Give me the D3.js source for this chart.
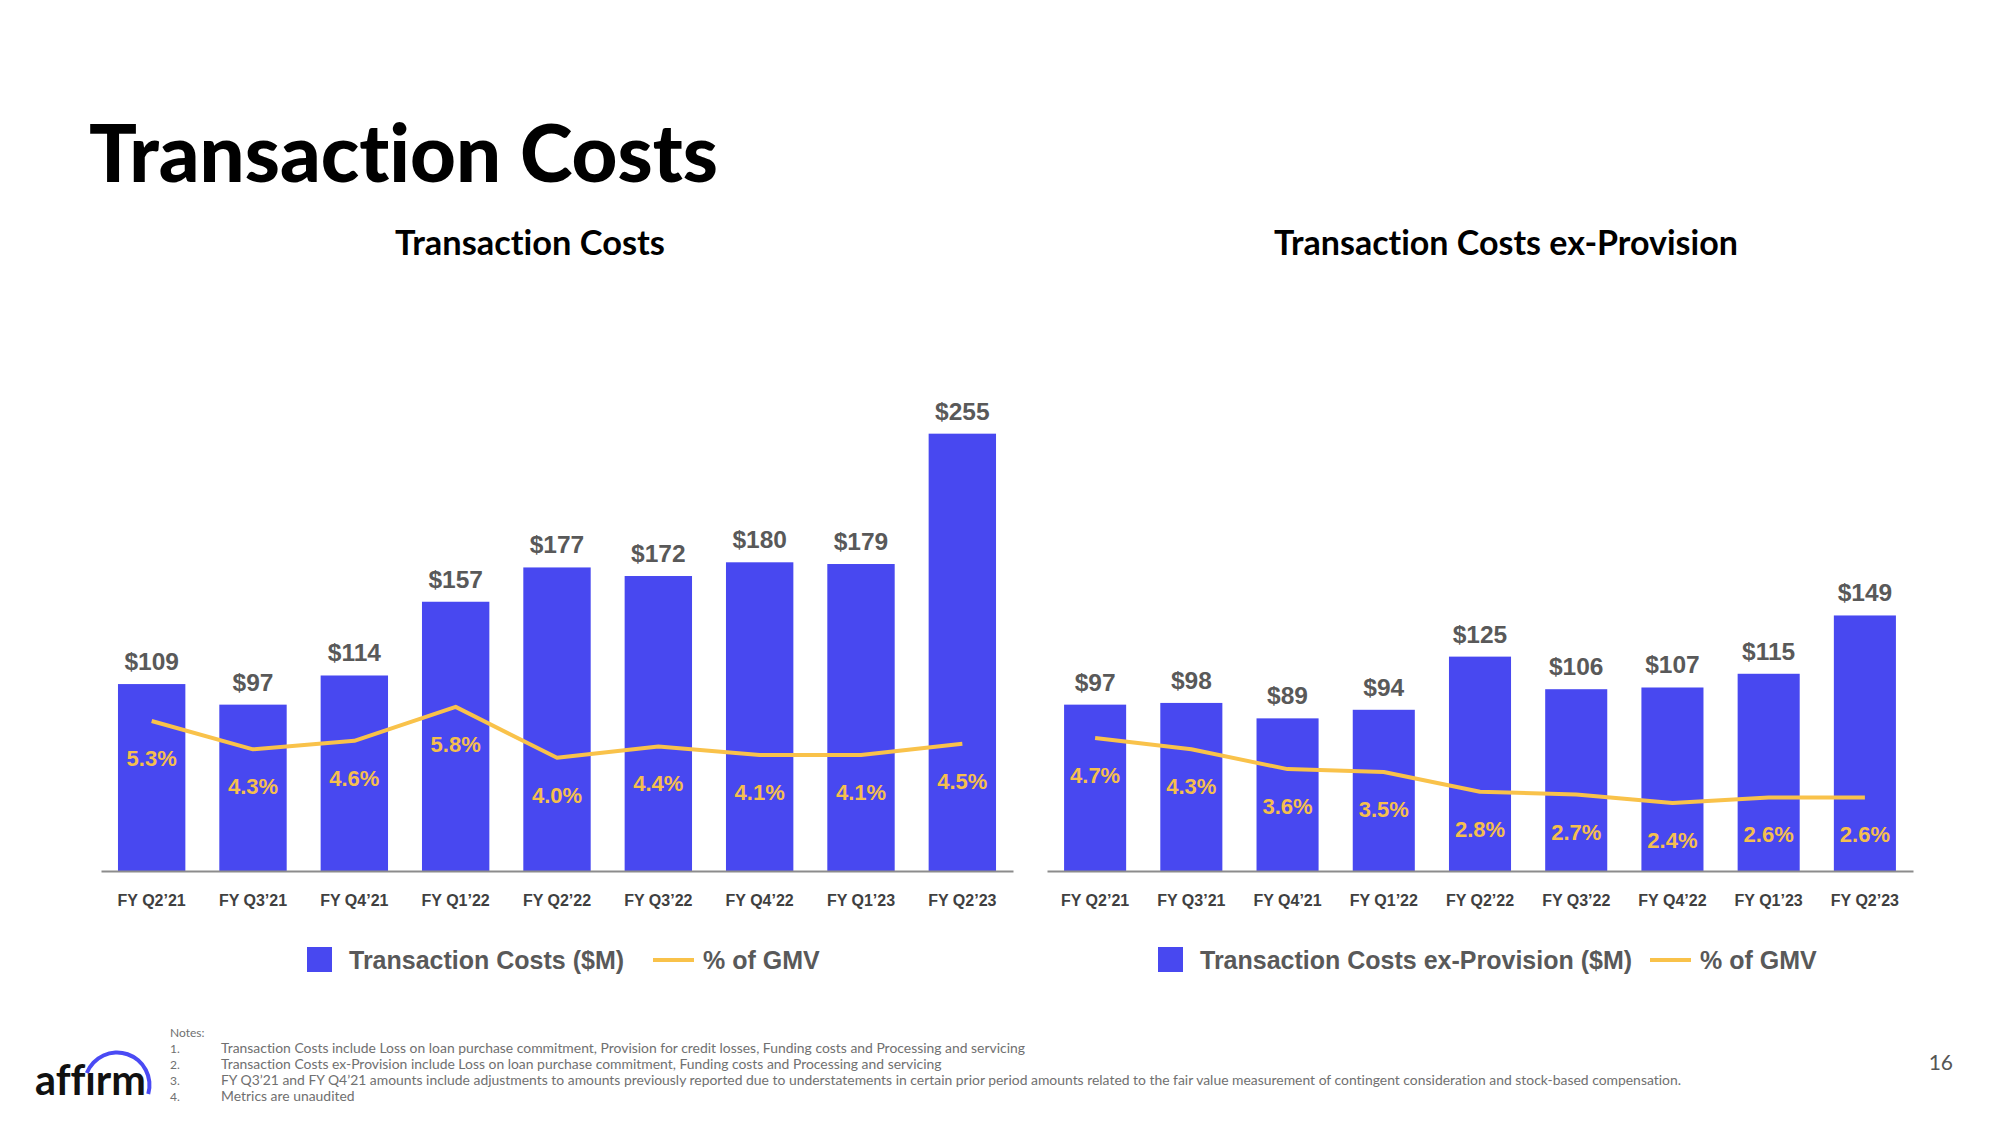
<!DOCTYPE html>
<html>
<head>
<meta charset="utf-8">
<script src="https://cdn.jsdelivr.net/npm/d3@7"></script>
<style>
  html, body { margin: 0; padding: 0; background: #ffffff; }
  svg { display: block; }
  text { font-variant-ligatures: none; font-feature-settings: "liga" 0, "clig" 0; }
</style>
</head>
<body>
<div id="chart"></div>
<script>
// ---------------- DATA ----------------
const categories = ["FY Q2\u201921","FY Q3\u201921","FY Q4\u201921","FY Q1\u201922","FY Q2\u201922","FY Q3\u201922","FY Q4\u201922","FY Q1\u201923","FY Q2\u201923"];
const transactionCosts = [109, 97, 114, 157, 177, 172, 180, 179, 255];
const transactionPctGMV = [5.3, 4.3, 4.6, 5.8, 4.0, 4.4, 4.1, 4.1, 4.5];
const exProvisionCosts = [97, 98, 89, 94, 125, 106, 107, 115, 149];
const exProvisionPctGMV = [4.7, 4.3, 3.6, 3.5, 2.8, 2.7, 2.4, 2.6, 2.6];
const notes = [
  "Transaction Costs include Loss on loan purchase commitment, Provision for credit losses, Funding costs and Processing and servicing",
  "Transaction Costs ex-Provision include Loss on loan purchase commitment, Funding costs and Processing and servicing",
  "FY Q3\u201921 and FY Q4\u201921 amounts include adjustments to amounts previously reported due to understatements in certain prior period amounts related to the fair value measurement of contingent consideration and stock-based compensation.",
  "Metrics are unaudited"
];

// ---------------- STYLE ----------------
const BAR = "#4848F0";
const LINE = "#F9C24A";
const PCT_TEXT = "#F5BF4E";
const VAL_TEXT = "#595959";
const AXIS_TEXT = "#404040";
const AXIS_LINE = "#8c8c8c";
const CHART_FONT = "'Liberation Sans', Arial, sans-serif";
const TITLE_FONT = "Lato, 'Open Sans', sans-serif";

const W = 2000, H = 1125;
const svg = d3.select("#chart").append("svg").attr("width", W).attr("height", H);

function fitWidth(sel, target) {
  const w = sel.node().getComputedTextLength();
  const fs = parseFloat(sel.attr("font-size"));
  sel.attr("font-size", fs * target / w);
}

// Title
const title = svg.append("text").attr("x", 89).attr("y", 182)
  .attr("font-family", TITLE_FONT).attr("font-weight", 900).attr("font-size", 72)
  .attr("fill", "#000").text("Transaction Costs");
fitWidth(title, 629);

// ---------------- PANELS ----------------
const baseY = 871;
const yVal = d3.scaleLinear().domain([0, 300]).range([baseY, baseY - 514.5]);
const yPct = d3.scaleLinear().domain([0, 10]).range([baseY, baseY - 283]);

function panel(cfg) {
  const g = svg.append("g");
  const x = d3.scaleBand().domain(categories).range([cfg.x0, cfg.x1])
    .paddingInner(cfg.pad).paddingOuter(cfg.pad / 2);
  const bw = x.bandwidth();

  // subtitle
  const st = g.append("text").attr("x", cfg.titleX).attr("y", 255)
    .attr("text-anchor", "middle").attr("font-family", TITLE_FONT)
    .attr("font-weight", 700).attr("font-size", 30).attr("fill", "#000").text(cfg.title);
  fitWidth(st, cfg.titleW);

  // bars
  g.selectAll("rect.bar").data(cfg.values).join("rect").attr("class", "bar")
    .attr("x", (d, i) => x(categories[i])).attr("width", bw)
    .attr("y", d => yVal(d)).attr("height", d => baseY - yVal(d))
    .attr("fill", BAR);

  // axis
  const ax = g.append("g").attr("transform", `translate(0,${baseY})`)
    .call(d3.axisBottom(x).tickSize(0).tickSizeOuter(0));
  ax.select(".domain").attr("stroke", AXIS_LINE).attr("stroke-width", 2);
  ax.selectAll(".tick text").attr("y", 35).attr("dy", 0)
    .attr("font-family", CHART_FONT).attr("font-weight", 700).attr("font-size", 16)
    .attr("fill", AXIS_TEXT);

  // value labels
  g.selectAll("text.val").data(cfg.values).join("text").attr("class", "val")
    .attr("x", (d, i) => x(categories[i]) + bw / 2).attr("y", d => yVal(d) - 14)
    .attr("text-anchor", "middle").attr("font-family", CHART_FONT)
    .attr("font-weight", 700).attr("font-size", 24.5).attr("fill", VAL_TEXT)
    .text(d => "$" + d);

  // line
  const line = d3.line().x((d, i) => x(categories[i]) + bw / 2).y(d => yPct(d));
  g.append("path").datum(cfg.pct).attr("d", line).attr("fill", "none")
    .attr("stroke", LINE).attr("stroke-width", 4).attr("stroke-linejoin", "round");

  // pct labels
  g.selectAll("text.pct").data(cfg.pct).join("text").attr("class", "pct")
    .attr("x", (d, i) => x(categories[i]) + bw / 2).attr("y", d => yPct(d) + 45)
    .attr("text-anchor", "middle").attr("font-family", CHART_FONT)
    .attr("font-weight", 700).attr("font-size", 22).attr("fill", PCT_TEXT)
    .text(d => d.toFixed(1) + "%");

  // legend
  const lg = g.append("g");
  lg.append("rect").attr("x", cfg.legX).attr("y", 947).attr("width", 25).attr("height", 25).attr("fill", BAR);
  lg.append("text").attr("x", cfg.legX + 42).attr("y", 969)
    .attr("font-family", CHART_FONT).attr("font-weight", 700).attr("font-size", 25)
    .attr("fill", VAL_TEXT).text(cfg.legend);
  lg.append("line").attr("x1", cfg.lineX).attr("x2", cfg.lineX + 41).attr("y1", 960).attr("y2", 960)
    .attr("stroke", LINE).attr("stroke-width", 4);
  lg.append("text").attr("x", cfg.lineX + 50).attr("y", 969)
    .attr("font-family", CHART_FONT).attr("font-weight", 700).attr("font-size", 25)
    .attr("fill", VAL_TEXT).text("% of GMV");
}

panel({ x0: 101, x1: 1013, pad: 0.335, values: transactionCosts, pct: transactionPctGMV,
  title: "Transaction Costs", titleX: 530, titleW: 270, legX: 307, lineX: 653,
  legend: "Transaction Costs ($M)" });
panel({ x0: 1047, x1: 1913, pad: 0.355, values: exProvisionCosts, pct: exProvisionPctGMV,
  title: "Transaction Costs ex-Provision", titleX: 1506, titleW: 464, legX: 1158, lineX: 1650,
  legend: "Transaction Costs ex-Provision ($M)" });

// ---------------- NOTES ----------------
const NOTE_FONT = "Lato, 'Open Sans', sans-serif";
const NOTE_COLOR = "#707070";
svg.append("text").attr("x", 170).attr("y", 1037).attr("font-family", NOTE_FONT)
  .attr("font-size", 12).attr("fill", NOTE_COLOR).text("Notes:");
const noteYs = [1053, 1069, 1085, 1101];
let noteSize = null;
notes.forEach((t, i) => {
  svg.append("text").attr("x", 170).attr("y", noteYs[i]).attr("font-family", NOTE_FONT)
    .attr("font-size", 12).attr("fill", NOTE_COLOR).text((i + 1) + ".");
  const nt = svg.append("text").attr("x", 221).attr("y", noteYs[i]).attr("font-family", NOTE_FONT)
    .attr("font-size", 12).attr("fill", NOTE_COLOR).text(t);
  if (i === 0) { fitWidth(nt, 805); noteSize = nt.attr("font-size"); }
  else nt.attr("font-size", noteSize);
});

// page number
svg.append("text").attr("x", 1953).attr("y", 1070).attr("text-anchor", "end")
  .attr("font-family", NOTE_FONT).attr("font-size", 21).attr("fill", "#555").text("16");

// ---------------- LOGO ----------------
const logo = svg.append("g");
const lt = logo.append("text").attr("x", 35).attr("y", 1095)
  .attr("font-family", TITLE_FONT).attr("font-weight", 700).attr("font-size", 34)
  .attr("fill", "#111").text("aff\u0131rm");
fitWidth(lt, 111);
logo.append("path")
  .attr("d", d3.arc().innerRadius(30.5).outerRadius(34.5).startAngle(-1.19).endAngle(1.85)())
  .attr("transform", "translate(117,1085)").attr("fill", "#4A4AF4");
</script>
</body>
</html>
